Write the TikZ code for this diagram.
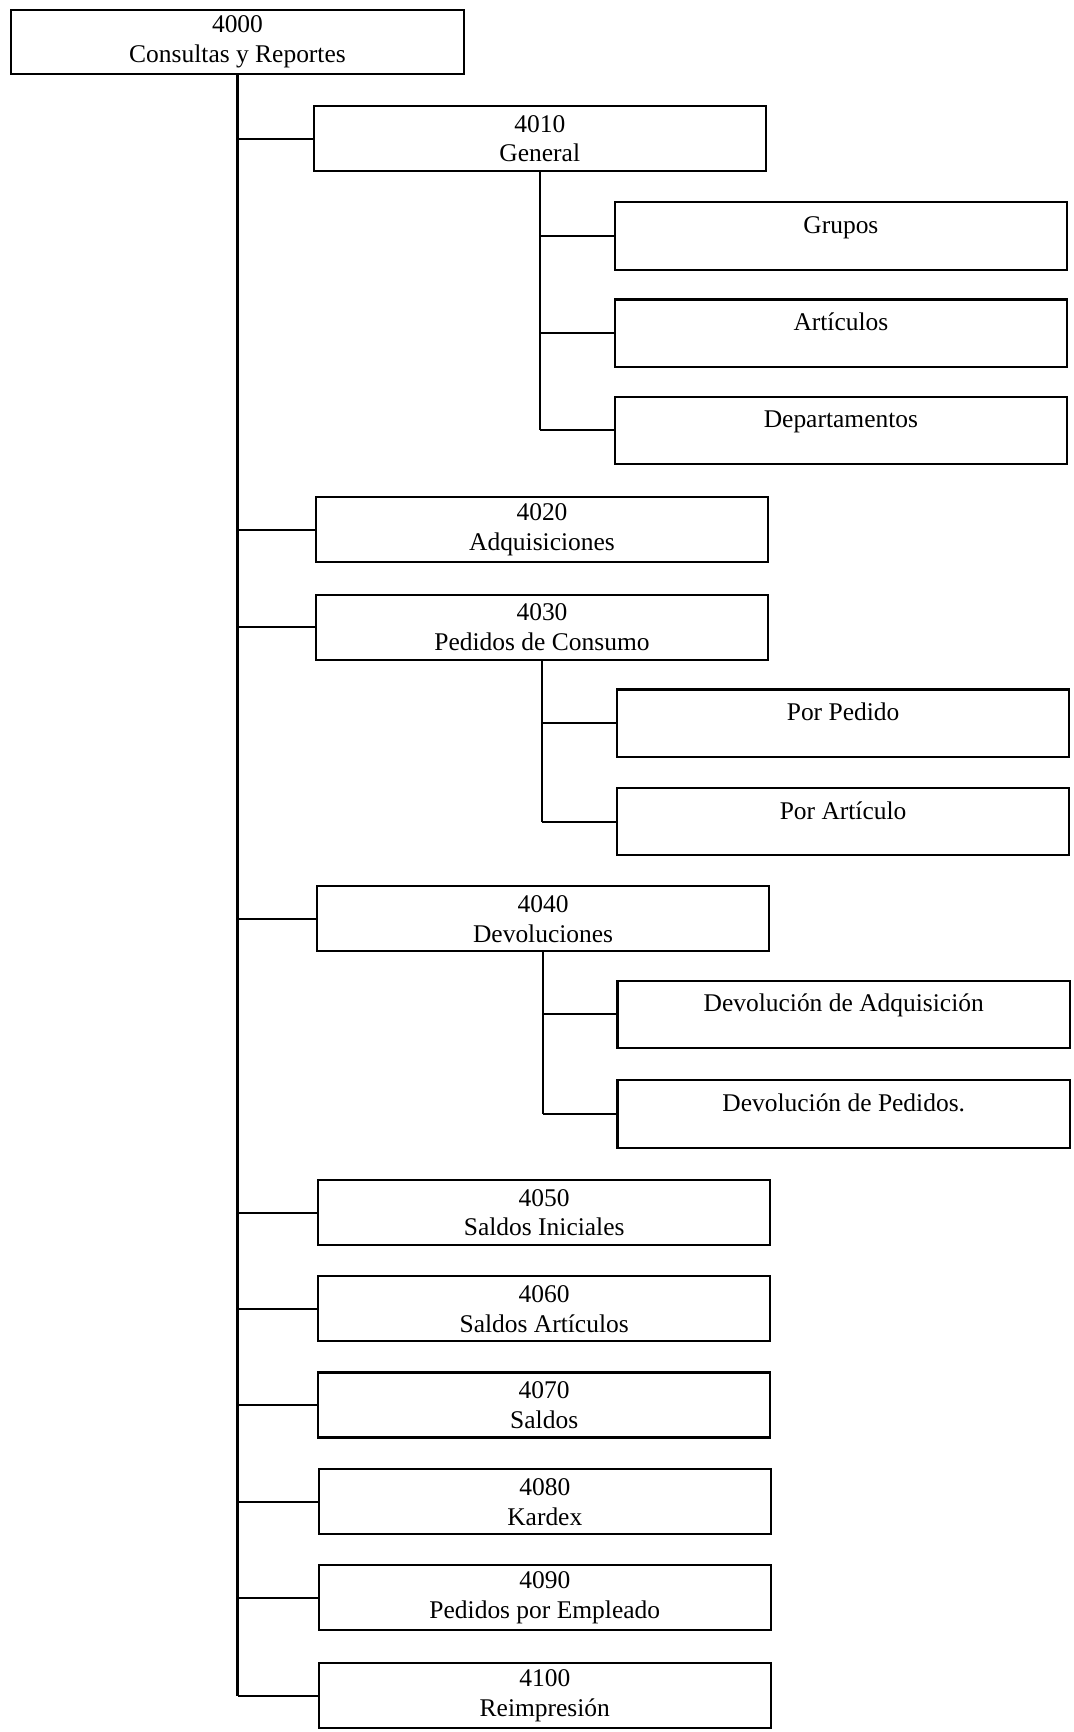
\documentclass[tikz,border=0pt]{standalone}
\usepackage{fontspec}
\setmainfont{Liberation Serif}
\usetikzlibrary{positioning}
\tikzset{
  caja/.style={rectangle, draw=black, line width=1.2pt, minimum width=9.05cm, minimum height=1.3cm, inner sep=0pt, align=center, font=\fontsize{14.5}{17}\selectfont},
  hoja/.style={caja, minimum height=1.35cm, text height=0.35cm, text depth=0.45cm},
  rama/.style={black, line width=1.2pt},
}

\begin{document}
\begin{tikzpicture}[x=0.02cm, y=-0.02cm]
  \useasboundingbox (0,0) rectangle (1073,1732);

  % ---------------- raíz ----------------
  \node[caja, minimum height=1.28cm] (n4000) at (237.5,42) {4000\\Consultas y Reportes};

  % ---------------- módulos ----------------
  \foreach \cod/\cx/\cy/\texto in {4010/539.8/138.7/General, 4020/542/529.8/Adquisiciones,
      4030/542/627.1/Pedidos de Consumo, 4040/543.1/918.8/Devoluciones,
      4050/544.2/1212.7/Saldos Iniciales, 4060/544.2/1308.9/Saldos Artículos,
      4070/544.2/1405/Saldos, 4080/544.8/1501.7/Kardex,
      4090/544.8/1597.8/Pedidos por Empleado, 4100/544.8/1695.6/Reimpresión} {
    \node[caja] (n\cod) at (\cx,\cy) {\cod\\\texto};
    \draw[rama] (n4000.south |- n\cod.west) -- (n\cod.west);
  }
  \draw[rama] (n4000.south) -- (n4000.south |- n4100.west);

  % ---------------- submódulos ----------------
  \foreach \nom/\cx/\cy/\texto/\padre in {grupos/840.9/235.9/Grupos/4010,
      articulos/840.9/333.2/Artículos/4010, deptos/840.9/430.4/Departamentos/4010,
      porpedido/843.1/723.2/Por Pedido/4030, porarticulo/843.1/821.6/Por Artículo/4030,
      devadq/843.7/1014.4/Devolución de Adquisición/4040,
      devped/843.7/1113.8/Devolución de Pedidos./4040} {
    \node[hoja] (\nom) at (\cx,\cy) {\texto};
    \draw[rama] (n\padre.south |- \nom.west) -- (\nom.west);
  }
  \draw[rama] (n4010.south) -- (n4010.south |- deptos.west);
  \draw[rama] (n4030.south) -- (n4030.south |- porarticulo.west);
  \draw[rama] (n4040.south) -- (n4040.south |- devped.west);
\end{tikzpicture}
\end{document}
